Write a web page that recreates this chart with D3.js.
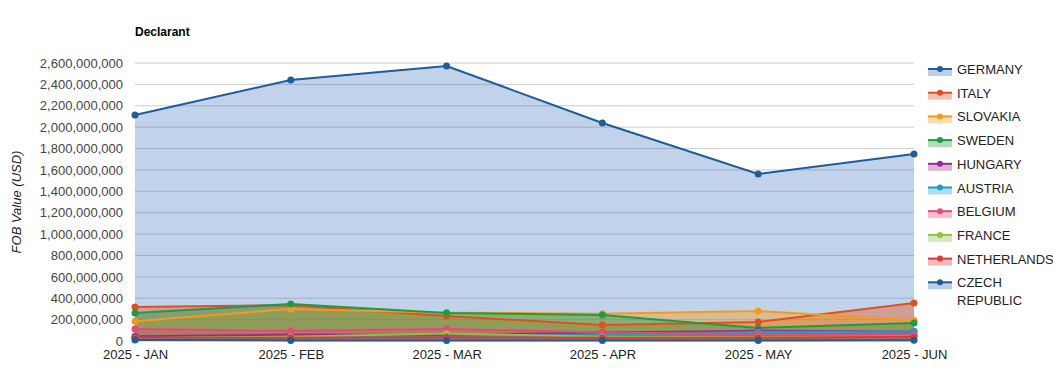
<!DOCTYPE html>
<html><head><meta charset="utf-8">
<script src="https://cdn.jsdelivr.net/npm/d3@7"></script>
<style>
body{margin:0;background:#fff;}
text{font-family:Arial,"Liberation Sans",sans-serif;}
</style></head>
<body><svg id="c" width="1053" height="379"></svg>
<script>
const months = ["2025 - JAN","2025 - FEB","2025 - MAR","2025 - APR","2025 - MAY","2025 - JUN"];
const countries = ["GERMANY","ITALY","SLOVAKIA","SWEDEN","HUNGARY","AUSTRIA","BELGIUM","FRANCE","NETHERLANDS","CZECH REPUBLIC"];
const germany     = [2114e6, 2441e6, 2572e6, 2039e6, 1562e6, 1749e6];
const italy       = [318e6, 335e6, 234e6, 150e6, 178e6, 355e6];
const slovakia    = [185e6, 300e6, 265e6, 255e6, 280e6, 195e6];
const sweden      = [262e6, 346e6, 262e6, 243e6, 122e6, 168e6];
const hungary     = [45e6, 60e6, 55e6, 80e6, 95e6, 90e6];
const austria     = [30e6, 35e6, 40e6, 60e6, 85e6, 88e6];
const belgium     = [112e6, 95e6, 112e6, 80e6, 65e6, 60e6];
const france      = [25e6, 40e6, 70e6, 40e6, 35e6, 45e6];
const netherlands = [30e6, 30e6, 35e6, 30e6, 30e6, 40e6];
const czech       = [10e6, 5e6, 5e6, 5e6, 5e6, 8e6];
const yTicks = d3.range(0, 2600e6 + 1, 200e6);

const seriesValues = [germany, italy, slovakia, sweden, hungary, austria, belgium, france, netherlands, czech];
const colors = ["#1f5c99","#e0501e","#f59b1a","#1f9a46","#9c2a8c","#1aa0c8","#e8477a","#8cc43c","#d83b3b","#1f5c99"];
const fills  = ["#3f74c2","#e0501e","#f59b1a","#1f9a46","#9c2a8c","#1aa0c8","#e8477a","#8cc43c","#d83b3b","#3f74c2"];
const opac   = [0.32, 0.4, 0.4, 0.4, 0.4, 0.4, 0.4, 0.4, 0.4, 0.4];

const svg = d3.select("#c");
const L = 135, R = 914, T = 63, B = 341;
const x = d3.scalePoint().domain(months).range([L, R]);
const y = d3.scaleLinear().domain([0, 2600e6]).range([B, T]);
const fmt = d3.format(",");

// gridlines
svg.append("g").selectAll("line").data(yTicks).join("line")
  .attr("x1", L).attr("x2", R).attr("y1", d => y(d)).attr("y2", d => y(d))
  .attr("stroke", "#cccccc").attr("stroke-width", 1);

// y axis labels
const yAxis = d3.axisLeft(y).tickValues(yTicks).tickFormat(fmt).tickSize(0).tickPadding(12);
const gy = svg.append("g").attr("transform", `translate(${L},0)`).call(yAxis);
gy.select(".domain").remove();
gy.selectAll("text").attr("font-size", 13).attr("fill", "#444").style("font-family","Arial,'Liberation Sans',sans-serif");

// x axis labels
const xAxis = d3.axisBottom(x).tickSize(0).tickPadding(9);
const gx = svg.append("g").attr("transform", `translate(0,${B})`).call(xAxis);
gx.select(".domain").remove();
gx.selectAll("text").attr("font-size", 13).attr("fill", "#222").style("font-family","Arial,'Liberation Sans',sans-serif");

// areas
const area = d3.area().x((d, i) => x(months[i])).y0(y(0)).y1(d => y(d));
const line = d3.line().x((d, i) => x(months[i])).y(d => y(d));
seriesValues.forEach((vals, k) => {
  svg.append("path").datum(vals).attr("d", area)
    .attr("fill", fills[k]).attr("fill-opacity", opac[k]).attr("stroke", "none");
});
seriesValues.forEach((vals, k) => {
  svg.append("path").datum(vals).attr("d", line)
    .attr("fill", "none").attr("stroke", colors[k]).attr("stroke-width", 2);
  svg.append("g").selectAll("circle").data(vals).join("circle")
    .attr("cx", (d, i) => x(months[i])).attr("cy", d => y(d)).attr("r", 3.5)
    .attr("fill", colors[k]);
});

// title
svg.append("text").attr("x", 135).attr("y", 36).attr("font-size", 12).attr("font-weight", "bold")
  .attr("fill", "#000").text("Declarant");

// y axis title
svg.append("text").attr("transform", "translate(21,202) rotate(-90)")
  .attr("text-anchor", "middle").attr("font-size", 13).attr("font-style", "italic")
  .attr("fill", "#222").text("FOB Value (USD)");

// legend
const lg = svg.append("g");
countries.forEach((c, k) => {
  const yy = 69 + k * 23.7;
  const g = lg.append("g").attr("transform", `translate(928,${yy})`);
  g.append("rect").attr("x", 0).attr("y", 0).attr("width", 24).attr("height", 7)
    .attr("fill", fills[k]).attr("fill-opacity", 0.35);
  g.append("line").attr("x1", 0).attr("x2", 24).attr("y1", 0).attr("y2", 0)
    .attr("stroke", colors[k]).attr("stroke-width", 2);
  g.append("circle").attr("cx", 12).attr("cy", 0).attr("r", 3).attr("fill", colors[k]);
  const t = g.append("text").attr("x", 29).attr("y", 5).attr("font-size", 13).attr("fill", "#222");
  if (c === "CZECH REPUBLIC") {
    t.append("tspan").attr("x", 29).text("CZECH");
    t.append("tspan").attr("x", 29).attr("dy", 18).text("REPUBLIC");
  } else t.text(c);
});
</script></body></html>
